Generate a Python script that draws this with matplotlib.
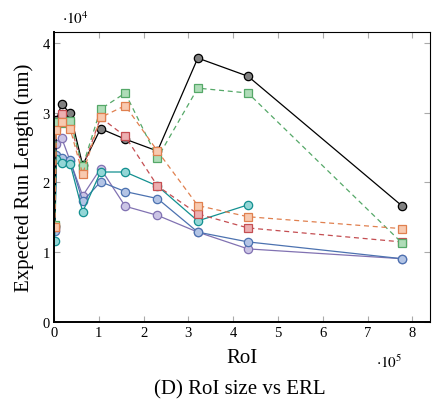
import matplotlib
matplotlib.use("Agg")
import matplotlib.pyplot as plt
import numpy as np

# RoI sizes (x) and expected run length (y, nm)
roi = [1600, 5500, 17000, 36000, 64000, 104000, 159000, 231000, 321000, 433000, 776000]

erl_black = [13800, 29000, 31200, 29900, 22500, 27700, 26200, 24500, 37800, 35200, 16700]
erl_green = [13900, 28700, 28500, 28800, 22300, 30500, 32800, 23500, 33500, 32800, 11400]
erl_orange = [13700, 27500, 28700, 27700, 21200, 29300, 31000, 24500, 16700, 15100, 13400]
erl_red = [13700, 28000, 29800, 28500, 22000, 29300, 26600, 19500, 15500, 13500, 11500]
erl_teal = [11700, 23300, 22800, 22700, 15800, 21500, 21500, 19500, 14500, 16800]
erl_blue = [13000, 24000, 23500, 23200, 17300, 20100, 18700, 17700, 12900, 11500, 9100]
erl_purple = [13500, 25500, 26400, 23100, 18100, 22000, 16600, 15300, 12900, 10500, 9100]

plt.rcParams['font.family'] = ['Liberation Serif', 'DejaVu Serif']
plt.rcParams['mathtext.fontset'] = 'stix'

fig = plt.figure(figsize=(4.32, 4.10), dpi=100)
ax = fig.add_axes([0.125, 0.2115, 0.87, 0.7075])

lw = 0.9
ms = 6.0
dash = (0, (4, 3))

def series(y, edge, fill, marker, ls):
    ax.plot(roi[:len(y)], y, color=edge, lw=lw, ls=ls, marker=marker, ms=ms,
            mfc=fill, mec=edge, mew=0.9)

series(erl_purple, '#8172b2', '#cbc4e5', 'o', '-')
series(erl_blue, '#4c72b0', '#b3c4e5', 'o', '-')
series(erl_teal, '#139090', '#93d6d6', 'o', '-')
series(erl_black, '#000000', '#808080', 'o', '-')
series(erl_red, '#c44e52', '#ecafb1', 's', dash)
series(erl_green, '#55a868', '#afdcb8', 's', dash)
series(erl_orange, '#e0804f', '#f8cab0', 's', dash)

ax.set_xlim(0, 8.39e5)
ax.set_ylim(0, 4.15e4)
ax.set_xticks(np.arange(0, 9) * 1e5)
ax.set_xticklabels([str(i) for i in range(9)])
ax.set_yticks(np.arange(0, 5) * 1e4)
ax.set_yticklabels([str(i) for i in range(5)])

ax.tick_params(direction='in', length=4, width=0.8, color='#aaaaaa',
               top=True, right=True, labelsize=10.5, pad=3)
for s in ['left', 'bottom']:
    ax.spines[s].set_linewidth(1.4)
for s in ['top', 'right']:
    ax.spines[s].set_linewidth(0.8)

ax.set_xlabel('RoI', fontsize=15, labelpad=6)
ax.set_ylabel('Expected Run Length (nm)', fontsize=15, labelpad=6)

fig.text(0.175, 0.955, r'$\cdot 10^4$', fontsize=11, ha='center', va='center')
fig.text(0.9, 0.115, r'$\cdot 10^5$', fontsize=11, ha='center', va='center')
fig.text(0.555, 0.048, '(D) RoI size vs ERL', fontsize=15, ha='center', va='center')

fig.savefig('out.png', dpi=100)
